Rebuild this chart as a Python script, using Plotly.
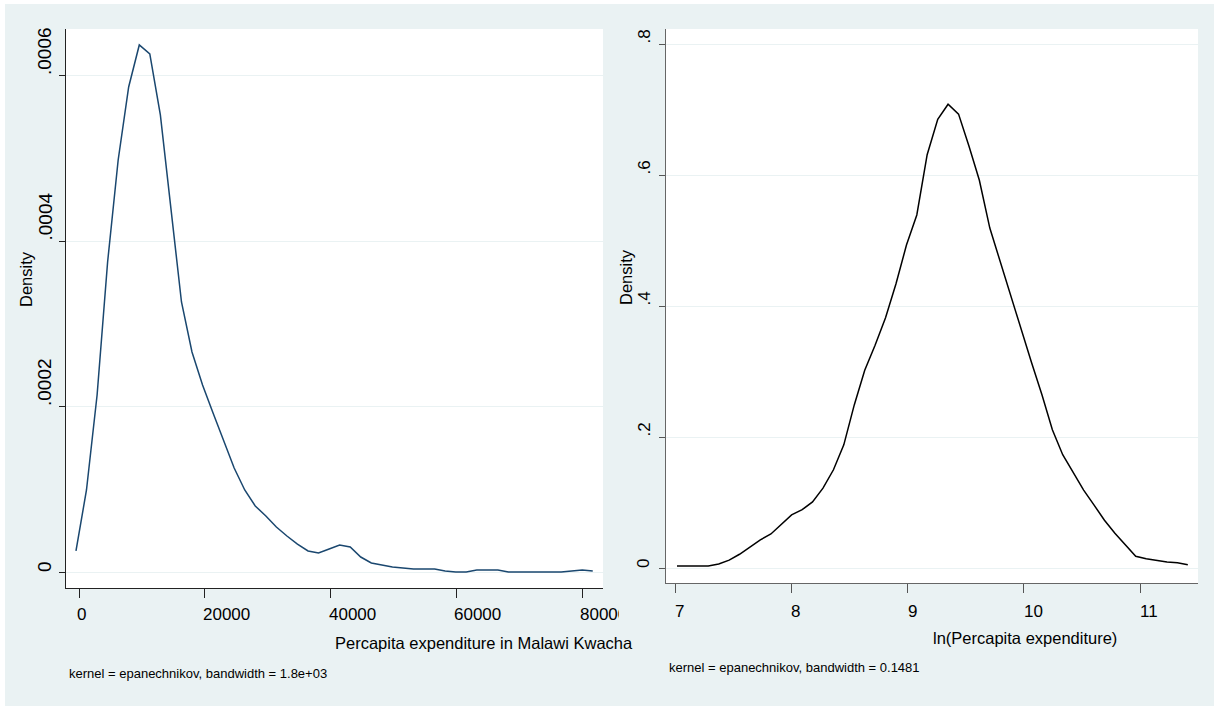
import plotly.graph_objects as go

# ---------------- data ----------------
# Left panel: kernel density of per-capita expenditure (Malawi Kwacha)
exp_x = [-480, 1190, 2880, 4550, 6230, 7900, 9590, 11260, 12940, 14610,
         16300, 17970, 19650, 21320, 23010, 24680, 26360, 28030, 29720, 31390,
         33070, 34740, 36430, 38100, 39780, 41450, 43140, 44810, 46490, 48160,
         49850, 51520, 53200, 54870, 56560, 58230, 59910, 61580, 63270, 64940,
         66620, 68290, 69980, 71650, 73330, 75000, 76690, 78360, 80040, 81710]
exp_d = [25.4e-6, 99.1e-6, 213.9e-6, 374.6e-6, 497.9e-6, 586.1e-6, 636.9e-6, 626.0e-6, 552.3e-6, 437.5e-6,
         326.3e-6, 265.9e-6, 226.0e-6, 192.2e-6, 159.5e-6, 125.7e-6, 99.1e-6, 79.8e-6, 67.7e-6, 54.4e-6,
         43.5e-6, 33.8e-6, 25.4e-6, 23.0e-6, 27.8e-6, 32.6e-6, 30.2e-6, 18.1e-6, 10.9e-6, 8.5e-6,
         6.0e-6, 4.8e-6, 3.6e-6, 3.6e-6, 3.6e-6, 1.2e-6, 0.0, 0.0, 2.4e-6, 2.4e-6,
         2.4e-6, 0.0, 0.0, 0.0, 0.0, 0.0, 0.0, 1.2e-6, 2.4e-6, 1.2e-6]

# Right panel: kernel density of ln(per-capita expenditure)
ln_x = [7.017, 7.107, 7.197, 7.286, 7.376, 7.466, 7.555, 7.645, 7.734, 7.825,
        7.914, 8.003, 8.094, 8.183, 8.273, 8.363, 8.452, 8.542, 8.632, 8.721,
        8.811, 8.901, 8.991, 9.080, 9.169, 9.260, 9.349, 9.439, 9.529, 9.618,
        9.708, 9.798, 9.887, 9.977, 10.066, 10.157, 10.246, 10.335, 10.426, 10.515,
        10.605, 10.694, 10.784, 10.874, 10.963, 11.053, 11.143, 11.232, 11.322, 11.411]
ln_d = [0.003, 0.003, 0.003, 0.003, 0.006, 0.012, 0.021, 0.032, 0.043, 0.052,
        0.066, 0.081, 0.089, 0.101, 0.122, 0.150, 0.188, 0.249, 0.302, 0.340,
        0.382, 0.434, 0.493, 0.539, 0.631, 0.685, 0.708, 0.693, 0.644, 0.592,
        0.519, 0.467, 0.417, 0.363, 0.314, 0.264, 0.211, 0.173, 0.145, 0.119,
        0.096, 0.073, 0.053, 0.035, 0.018, 0.014, 0.011, 0.009, 0.008, 0.005]

left_xticks = [0, 20000, 40000, 60000, 80000]
left_xlabels = ["0", "20000", "40000", "60000", "80000"]
left_yticks = [0, 0.0002, 0.0004, 0.0006]
left_ylabels = ["0", ".0002", ".0004", ".0006"]
right_xticks = [7, 8, 9, 10, 11]
right_xlabels = ["7", "8", "9", "10", "11"]
right_yticks = [0, 0.2, 0.4, 0.6, 0.8]
right_ylabels = ["0", ".2", ".4", ".6", ".8"]

left_xtitle = "Percapita expenditure in Malawi Kwacha"
right_xtitle = "ln(Percapita expenditure)"
ytitle = "Density"
left_note = "kernel = epanechnikov, bandwidth = 1.8e+03"
right_note = "kernel = epanechnikov, bandwidth = 0.1481"

# ---------------- styling ----------------
W, H = 1217, 708
BG = "#EAF2F3"
FONT = "Liberation Sans, Arial, sans-serif"
NAVY = "#1A476F"

L_DOM_X = [66 / W, 603 / W]
L_DOM_Y = [(H - 588) / H, (H - 29) / H]
R_DOM_X = [666 / W, 1198 / W]
R_DOM_Y = [(H - 583) / H, (H - 29) / H]

fig = go.Figure()
fig.add_trace(go.Scatter(x=exp_x, y=exp_d, mode="lines",
                         line=dict(color=NAVY, width=1.5), xaxis="x", yaxis="y",
                         showlegend=False, hoverinfo="x+y"))
fig.add_trace(go.Scatter(x=ln_x, y=ln_d, mode="lines",
                         line=dict(color="black", width=1.5), xaxis="x2", yaxis="y2",
                         showlegend=False, hoverinfo="x+y"))

shapes = [
    dict(type="rect", xref="paper", yref="paper", x0=5 / W, x1=1214 / W,
         y0=(H - 706) / H, y1=(H - 4) / H, fillcolor=BG, line=dict(width=0), layer="below"),
    dict(type="rect", xref="paper", yref="paper", x0=L_DOM_X[0], x1=L_DOM_X[1],
         y0=L_DOM_Y[0], y1=L_DOM_Y[1], fillcolor="white", line=dict(width=0), layer="below"),
    dict(type="rect", xref="paper", yref="paper", x0=R_DOM_X[0], x1=R_DOM_X[1],
         y0=R_DOM_Y[0], y1=R_DOM_Y[1], fillcolor="white", line=dict(width=0), layer="below"),
]

ann = []
LXF = dict(family=FONT, size=17, color="black")
RXF = dict(family=FONT, size=17, color="black")
LYF = dict(family=FONT, size=19, color="black")
RYF = dict(family=FONT, size=17, color="black")
# x tick labels (drawn starting at the tick, as in the original)
for v, t in zip(left_xticks, left_xlabels):
    a = dict(x=v, xref="x", y=L_DOM_Y[0], yref="paper", text=t, showarrow=False,
             xanchor="left", yanchor="top", yshift=-17, xshift=-2, font=LXF,
             borderpad=0, borderwidth=0, align="left")
    if v == left_xticks[-1]:
        a["width"] = 39
    ann.append(a)
for v, t in zip(right_xticks, right_xlabels):
    ann.append(dict(x=v, xref="x2", y=R_DOM_Y[0], yref="paper", text=t, showarrow=False,
                    xanchor="left", yanchor="top", yshift=-19, xshift=0, font=RXF,
                    borderpad=0, borderwidth=0))
# y tick labels (rotated, starting at the tick)
for v, t in zip(left_yticks, left_ylabels):
    ann.append(dict(x=L_DOM_X[0], xref="paper", y=v, yref="y", text=t, showarrow=False,
                    textangle=-90, xanchor="right", yanchor="bottom", xshift=-11,
                    font=LYF, borderpad=0, borderwidth=0))
for v, t in zip(right_yticks, right_ylabels):
    ann.append(dict(x=R_DOM_X[0], xref="paper", y=v, yref="y2", text=t, showarrow=False,
                    textangle=-90, xanchor="right", yanchor="bottom", xshift=-13,
                    font=RYF, borderpad=0, borderwidth=0))
TITF = dict(family=FONT, size=16.5, color="black")
NOTEF = dict(family=FONT, size=13, color="black")
ann += [
    dict(x=26 / W, y=(H - 307) / H, xref="paper", yref="paper", text=ytitle, showarrow=False,
         textangle=-90, xanchor="center", yanchor="bottom", font=TITF, borderpad=0, borderwidth=0),
    dict(x=626 / W, y=(H - 305) / H, xref="paper", yref="paper", text=ytitle, showarrow=False,
         textangle=-90, xanchor="center", yanchor="bottom", font=TITF, borderpad=0, borderwidth=0),
    dict(x=335 / W, y=(H - 643) / H, xref="paper", yref="paper", text=left_xtitle,
         showarrow=False, xanchor="left", yanchor="middle", font=TITF, borderpad=0, borderwidth=0),
    dict(x=933 / W, y=(H - 638) / H, xref="paper", yref="paper", text=right_xtitle,
         showarrow=False, xanchor="left", yanchor="middle", font=TITF, borderpad=0, borderwidth=0),
    dict(x=69 / W, y=(H - 673) / H, xref="paper", yref="paper", text=left_note,
         showarrow=False, xanchor="left", yanchor="middle", font=NOTEF, borderpad=0, borderwidth=0),
    dict(x=669 / W, y=(H - 667) / H, xref="paper", yref="paper", text=right_note,
         showarrow=False, xanchor="left", yanchor="middle", font=NOTEF, borderpad=0, borderwidth=0),
]

axis_common = dict(showgrid=False, zeroline=False, showticklabels=False, ticks="outside",
                   showline=True, mirror=False, fixedrange=True)

fig.update_layout(
    width=W, height=H, margin=dict(l=0, r=0, t=0, b=0),
    paper_bgcolor="white", plot_bgcolor="rgba(0,0,0,0)",
    shapes=shapes, annotations=ann, showlegend=False,
    xaxis=dict(domain=L_DOM_X, range=[-2067, 83339], tickvals=left_xticks,
               ticklen=9, tickcolor="#222", linecolor="#222", linewidth=1,
               anchor="y", **axis_common),
    yaxis=dict(domain=L_DOM_Y, range=[-1.934e-5, 6.562e-4], tickvals=left_yticks,
               ticklen=6, tickcolor="#222", linecolor="#222", linewidth=1,
               anchor="x", **{**axis_common, "showgrid": True}, gridcolor=BG, gridwidth=1),
    xaxis2=dict(domain=R_DOM_X, range=[6.9226, 11.4987], tickvals=right_xticks,
                ticklen=9, tickcolor="#555", linecolor="#666", linewidth=1,
                anchor="y2", **axis_common),
    yaxis2=dict(domain=R_DOM_Y, range=[-0.0229, 0.8229], tickvals=right_yticks,
                ticklen=6, tickcolor="#555", linecolor="#666", linewidth=1,
                anchor="x2", **{**axis_common, "showgrid": True}, gridcolor=BG, gridwidth=1),
)

fig.write_html("out.html", config={"displayModeBar": False},
               post_script="document.body.style.margin='0px';")
